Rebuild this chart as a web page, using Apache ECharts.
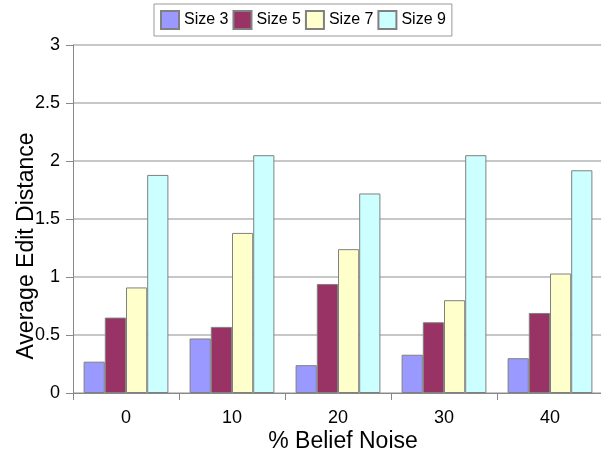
<!DOCTYPE html>
<html><head><meta charset="utf-8">
<script src="https://cdn.jsdelivr.net/npm/echarts@6/dist/echarts.min.js"></script>
<style>html,body{margin:0;padding:0;background:#fff;}#c{width:601px;height:450px;}</style>
</head><body><div id="c"></div>
<script>
var categories = ['0', '10', '20', '30', '40'];
var seriesNames = ['Size 3', 'Size 5', 'Size 7', 'Size 9'];
var size3 = [0.27, 0.47, 0.24, 0.33, 0.30];
var size5 = [0.65, 0.57, 0.94, 0.61, 0.69];
var size7 = [0.91, 1.38, 1.24, 0.80, 1.03];
var size9 = [1.88, 2.05, 1.72, 2.05, 1.92];
var yTicks = [0, 0.5, 1, 1.5, 2, 2.5, 3];
var colors = ['#9999ff', '#993366', '#ffffcc', '#ccffff'];
var values = [size3, size5, size7, size9];

var font = 'Liberation Sans, Arial, Helvetica, sans-serif';
var chart = echarts.init(document.getElementById('c'), null, {renderer: 'canvas'});
chart.setOption({
  animation: false,
  backgroundColor: '#ffffff',
  textStyle: {fontFamily: font, color: '#000'},
  legend: {
    top: 4, left: 154,
    padding: [6, 6, 6, 6],
    itemWidth: 18, itemHeight: 18, itemGap: 4,
    borderColor: '#999', borderWidth: 1,
    icon: 'rect',
    textStyle: {fontSize: 16, color: '#000', fontFamily: font},
    data: seriesNames
  },
  grid: {left: 73, top: 45, width: 530, height: 348, containLabel: false, outerBoundsMode: 'none'},
  xAxis: {
    type: 'category',
    data: categories,
    name: '% Belief Noise',
    nameLocation: 'middle',
    nameGap: 37,
    nameMoveOverlap: false,
    nameTextStyle: {fontSize: 23, color: '#000', fontFamily: font, padding: [0, 0, 0, 10]},
    axisLine: {show: true, lineStyle: {color: '#888', width: 1}},
    axisTick: {show: true, alignWithLabel: false, length: 7, lineStyle: {color: '#888'}},
    axisLabel: {fontSize: 18, color: '#000', margin: 16, fontFamily: font},
    splitLine: {show: false}
  },
  yAxis: {
    type: 'value',
    min: 0, max: 3, interval: 0.5,
    name: 'Average Edit Distance',
    nameLocation: 'middle',
    nameGap: 35,
    nameRotate: 90,
    nameMoveOverlap: false,
    nameTextStyle: {fontSize: 23, color: '#000', fontFamily: font, padding: [0, 54, 0, 0]},
    axisLine: {show: true, lineStyle: {color: '#888', width: 1}},
    axisTick: {show: true, length: 7, lineStyle: {color: '#888'}},
    axisLabel: {fontSize: 18, color: '#000', margin: 13, fontFamily: font,
      formatter: function (v) { return yTicks.indexOf(v) >= 0 ? String(v) : ''; }},
    splitLine: {show: true, lineStyle: {color: '#b4b4b4', width: 1.5}}
  },
  series: seriesNames.map(function (n, i) {
    return {
      name: n,
      type: 'bar',
      data: values[i],
      barGap: '0%',
      barCategoryGap: '20%',
      itemStyle: {color: colors[i], borderColor: '#808080', borderWidth: 1}
    };
  })
});
</script></body></html>
